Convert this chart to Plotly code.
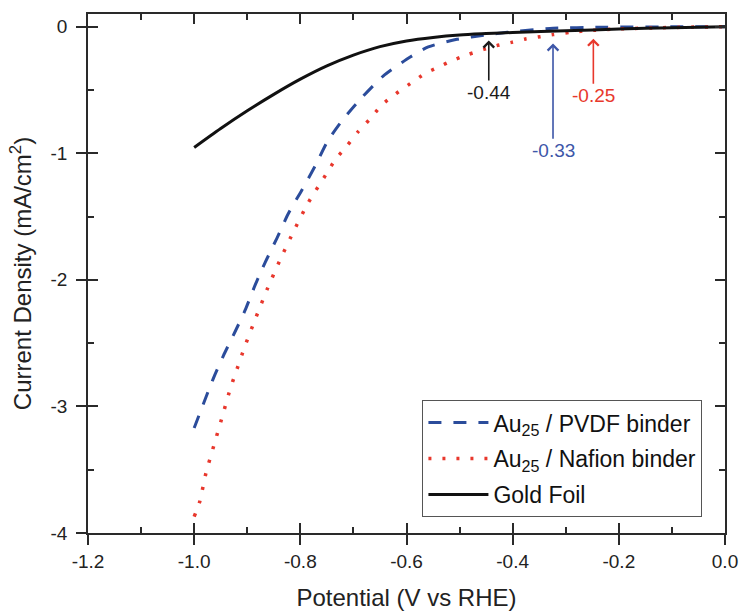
import plotly.graph_objects as go

# ---------------- data ----------------
potential_gold = [-1.0, -0.95, -0.90, -0.85, -0.80, -0.75, -0.70, -0.65, -0.60, -0.55,
                  -0.50, -0.45, -0.40, -0.30, -0.20, -0.10, 0.0]
current_gold = [-0.955, -0.805, -0.665, -0.535, -0.415, -0.31, -0.225, -0.158, -0.113, -0.085,
                -0.066, -0.055, -0.046, -0.033, -0.019, -0.008, 0.0]

potential_pvdf = [-1.0, -0.964, -0.945, -0.923, -0.904, -0.885, -0.866, -0.844, -0.823,
                  -0.797, -0.772, -0.748, -0.719, -0.684, -0.644, -0.593, -0.559, -0.505,
                  -0.45, -0.41, -0.324, -0.235, -0.12, 0.0]
current_pvdf = [-3.17, -2.78, -2.60, -2.41, -2.24, -2.04, -1.86, -1.67, -1.48,
                -1.29, -1.10, -0.90, -0.73, -0.56, -0.39, -0.24, -0.16, -0.10,
                -0.065, -0.045, -0.013, -0.005, -0.002, 0.0]

potential_nafion = [-1.0, -0.99, -0.978, -0.963, -0.947, -0.932, -0.923, -0.904, -0.883,
                    -0.862, -0.839, -0.813, -0.785, -0.752, -0.734, -0.712, -0.691, -0.669,
                    -0.647, -0.620, -0.593, -0.565, -0.54, -0.515, -0.484, -0.455, -0.43,
                    -0.402, -0.376, -0.348, -0.324, -0.292, -0.26, -0.2, -0.12, 0.0]
current_nafion = [-3.87, -3.76, -3.53, -3.31, -3.08, -2.86, -2.75, -2.52, -2.29,
                  -2.07, -1.85, -1.62, -1.39, -1.17, -1.05, -0.94, -0.83, -0.73,
                  -0.62, -0.53, -0.45, -0.37, -0.32, -0.27, -0.22, -0.18, -0.15,
                  -0.124, -0.097, -0.079, -0.063, -0.045, -0.032, -0.018, -0.008, 0.0]

series_names = ["Au<sub>25</sub> / PVDF binder", "Au<sub>25</sub> / Nafion binder", "Gold Foil"]

x_tick_values = [-1.2, -1.0, -0.8, -0.6, -0.4, -0.2, 0.0]
x_tick_labels = ["-1.2", "-1.0", "-0.8", "-0.6", "-0.4", "-0.2", "0.0"]
y_tick_values = [0, -1, -2, -3, -4]
y_tick_labels = ["0", "-1", "-2", "-3", "-4"]

# onset potentials: label, arrow x, arrow tip y, label centre y, colour
onset_labels = ["-0.44", "-0.33", "-0.25"]
onset_x = [-0.445, -0.324, -0.248]
onset_tip_y = [-0.11, -0.134, -0.095]
onset_label_y = [-0.52, -0.98, -0.545]
onset_colors = ["#1a1a1a", "#3d56a8", "#e8382c"]

FONT = "Arial, Liberation Sans, sans-serif"
AXC = "#2a2a2a"

fig = go.Figure()
fig.add_trace(go.Scatter(x=potential_pvdf, y=current_pvdf, mode="lines", name=series_names[0],
                         legendgroup="a",
                         line=dict(color="#2b4c9b", width=3, dash="13px,12px", shape="spline",
                                   smoothing=0.6)))
fig.add_trace(go.Scatter(x=potential_nafion, y=current_nafion, mode="lines", name=series_names[1],
                         legendgroup="b",
                         line=dict(color="#e8372c", width=3.5, dash="3px,11px", shape="spline",
                                   smoothing=0.6)))
fig.add_trace(go.Scatter(x=potential_gold, y=current_gold, mode="lines", name=series_names[2],
                         legendgroup="c",
                         line=dict(color="#111111", width=3, shape="spline", smoothing=0.8)))
# empty trace that activates the overlay axes carrying the inner (mirrored) ticks
fig.add_trace(go.Scatter(x=[None], y=[None], xaxis="x2", yaxis="y2", mode="lines",
                         showlegend=False, hoverinfo="skip"))

for i in range(3):
    fig.add_annotation(x=onset_x[i], y=onset_tip_y[i], ax=onset_x[i], ay=onset_label_y[i],
                       xref="x", yref="y", axref="x", ayref="y", text=onset_labels[i],
                       showarrow=True, arrowhead=4, arrowsize=1.3, arrowwidth=1.6,
                       arrowcolor=onset_colors[i], standoff=0,
                       font=dict(family=FONT, size=19, color=onset_colors[i]))

common_x = dict(range=[-1.2, 0.0], tickvals=x_tick_values, showgrid=False, zeroline=False,
                showline=True, linecolor=AXC, linewidth=1.5, tickcolor=AXC, tickwidth=1.5,
                ticklen=10, automargin=False)
common_y = dict(range=[-4, 0.1], tickvals=y_tick_values, showgrid=False, zeroline=False,
                showline=True, linecolor=AXC, linewidth=1.5, tickcolor=AXC, tickwidth=1.5,
                ticklen=10, automargin=False)

fig.update_layout(
    width=740, height=611,
    margin=dict(l=88, r=15, t=14, b=78),
    paper_bgcolor="white", plot_bgcolor="white",
    font=dict(family=FONT, color="#222222"),
    xaxis=dict(**common_x, ticktext=x_tick_labels, ticks="outside", mirror=True,
               tickfont=dict(size=19, color="#222"),
               title=dict(text="Potential (V vs RHE)", font=dict(size=24, color="#222"), standoff=25)),
    yaxis=dict(**common_y, ticktext=y_tick_labels, ticks="outside", mirror=True,
               tickfont=dict(size=19, color="#222"), ticklabelstandoff=5,
               title=dict(text="Current Density (mA/cm<sup>2</sup>)", font=dict(size=24, color="#222"),
                          standoff=12)),
    xaxis2=dict(**common_x, overlaying="x", anchor="y2", ticks="inside", mirror="ticks",
                showticklabels=False,
                minor=dict(ticks="inside", tickmode="linear", tick0=-1.1, dtick=0.2, ticklen=6,
                           tickcolor=AXC, tickwidth=1.5)),
    yaxis2=dict(**common_y, overlaying="y", anchor="x2", ticks="inside", mirror="ticks",
                showticklabels=False,
                minor=dict(ticks="inside", tickmode="linear", tick0=-0.5, dtick=1, ticklen=6,
                           tickcolor=AXC, tickwidth=1.5)),
    showlegend=True,
    legend=dict(x=0.525, y=0.256, xanchor="left", yanchor="top", bgcolor="white",
                bordercolor="#555", borderwidth=1, font=dict(family=FONT, size=23, color="#111"),
                tracegroupgap=3, itemwidth=60),
)

fig.write_html("out.html")
